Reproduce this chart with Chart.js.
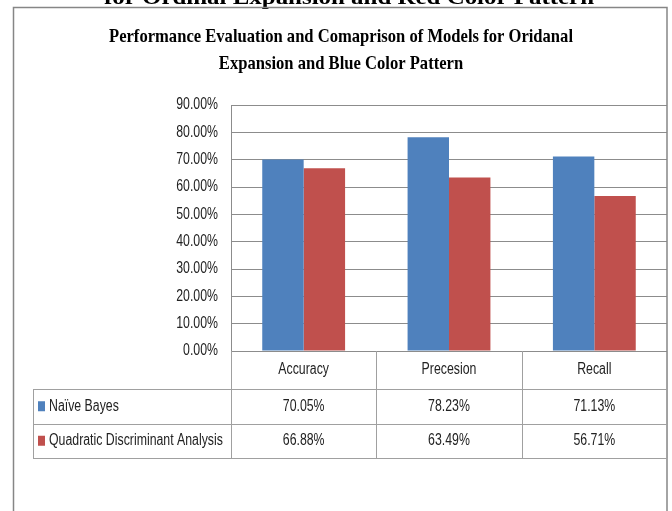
<!DOCTYPE html>
<html>
<head>
<meta charset="utf-8">
<script src="https://cdn.jsdelivr.net/npm/chart.js@4/dist/chart.umd.min.js"></script>
<style>
  html, body { margin: 0; padding: 0; background: #fff; }
  #wrap { width: 672px; height: 511px; position: relative; }
</style>
</head>
<body>
<div id="wrap"><canvas id="chart" width="672" height="511"></canvas></div>
<script>
// ── data ─────────────────────────────────────────────
const categories  = ['Accuracy', 'Precesion', 'Recall'];
const seriesNames = ['Naïve Bayes', 'Quadratic Discriminant Analysis'];
const naiveBayes  = [70.05, 78.23, 71.13];
const qda         = [66.88, 63.49, 56.71];
const yTicks      = [0, 10, 20, 30, 40, 50, 60, 70, 80, 90];
const titleLines  = ['Performance Evaluation and Comaprison of Models for Oridanal',
                     'Expansion and Blue Color Pattern'];
const prevCaption = 'for Ordinal Expansion and Red Color Pattern';

const BLUE = '#4F81BD', RED = '#C0504D';
const SANS = "16px 'Liberation Sans', Arial, sans-serif";
const SX   = 0.77;   // text in the source is squeezed horizontally
const INK  = '#222';
const fmt  = v => v.toFixed(2) + '%';

function txt(ctx, s, x, y, align, font, sx, base) {
  ctx.save();
  ctx.font = font;
  ctx.textAlign = align;
  ctx.textBaseline = base || 'middle';
  ctx.translate(x, y);
  ctx.scale(sx, 1);
  ctx.fillText(s, 0, 0);
  ctx.restore();
}

function hline(ctx, x1, x2, y) { ctx.beginPath(); ctx.moveTo(x1, y); ctx.lineTo(x2, y); ctx.stroke(); }
function vline(ctx, x, y1, y2) { ctx.beginPath(); ctx.moveTo(x, y1); ctx.lineTo(x, y2); ctx.stroke(); }

// frame, titles, y labels and the data table under the plot
const excelBits = {
  id: 'excelBits',
  afterDraw(chart) {
    const {ctx, chartArea: a, scales: {x, y}} = chart;
    const colW = a.width / categories.length;
    const rowTop = [a.bottom, 389, 423.5, 458];
    const tblLeft = 33;

    // title + the caption cut off above the box
    ctx.fillStyle = '#000';
    const tFont = "bold 19px 'Liberation Serif', 'Times New Roman', serif";
    ctx.save();
    ctx.font = tFont;
    const tsx = 464 / ctx.measureText(titleLines[0]).width;
    ctx.restore();
    txt(ctx, titleLines[0], 341, 42, 'center', tFont, tsx, 'alphabetic');
    txt(ctx, titleLines[1], 341, 68.5, 'center', tFont, tsx, 'alphabetic');
    const cFont = "bold 21px 'Liberation Serif', 'Times New Roman', serif";
    ctx.save();
    ctx.font = cFont;
    const csx = 490 / ctx.measureText(prevCaption).width;
    ctx.restore();
    txt(ctx, prevCaption, 349, 4, 'center', cFont, csx, 'alphabetic');

    // outer box
    ctx.strokeStyle = '#868686';
    ctx.lineWidth = 1.5;
    ctx.strokeRect(13.5, 7.5, 653.5, 520);

    // y tick labels
    ctx.fillStyle = INK;
    yTicks.forEach(v => txt(ctx, fmt(v), 218, y.getPixelForValue(v), 'right', SANS, SX));

    // table grid
    ctx.strokeStyle = '#a0a0a0';
    ctx.lineWidth = 1;
    for (let i = 0; i <= categories.length; i++) {
      vline(ctx, Math.round(a.left + i * colW) + 0.5, a.bottom, rowTop[3]);
    }
    vline(ctx, tblLeft + 0.5, rowTop[1], rowTop[3]);
    [1, 2, 3].forEach(r => hline(ctx, tblLeft, a.right, Math.round(rowTop[r]) + 0.5));

    // category labels
    ctx.fillStyle = INK;
    categories.forEach((c, i) =>
      txt(ctx, c, x.getPixelForValue(i), (rowTop[0] + rowTop[1]) / 2, 'center', SANS, SX));

    // series rows
    [naiveBayes, qda].forEach((vals, r) => {
      const cy = (rowTop[r + 1] + rowTop[r + 2]) / 2;
      ctx.fillStyle = r === 0 ? BLUE : RED;
      ctx.fillRect(38, cy - 5, 7, 10);
      ctx.fillStyle = INK;
      txt(ctx, seriesNames[r], 49, cy, 'left', SANS, SX);
      vals.forEach((v, i) => txt(ctx, fmt(v), x.getPixelForValue(i), cy, 'center', SANS, SX));
    });
  }
};

new Chart(document.getElementById('chart'), {
  type: 'bar',
  data: {
    labels: categories,
    datasets: [
      {label: seriesNames[0], data: naiveBayes, backgroundColor: BLUE},
      {label: seriesNames[1], data: qda, backgroundColor: RED},
    ],
  },
  options: {
    responsive: false,
    animation: false,
    layout: {padding: {top: 105, right: 5, bottom: 160, left: 0}},
    datasets: {bar: {categoryPercentage: 0.57, barPercentage: 1.0}},
    plugins: {legend: {display: false}, title: {display: false}, tooltip: {enabled: false}},
    scales: {
      x: {
        ticks: {display: false},
        grid: {display: false},
        border: {display: false},
        afterFit: s => { s.height = 0; },
      },
      y: {
        min: 0, max: 90,
        ticks: {display: false, stepSize: 10},
        grid: {color: '#8c8c8c', drawTicks: false},
        border: {display: true, color: '#8c8c8c'},
        afterFit: s => { s.width = 231; },
      },
    },
  },
  plugins: [excelBits],
});
</script>
</body>
</html>
